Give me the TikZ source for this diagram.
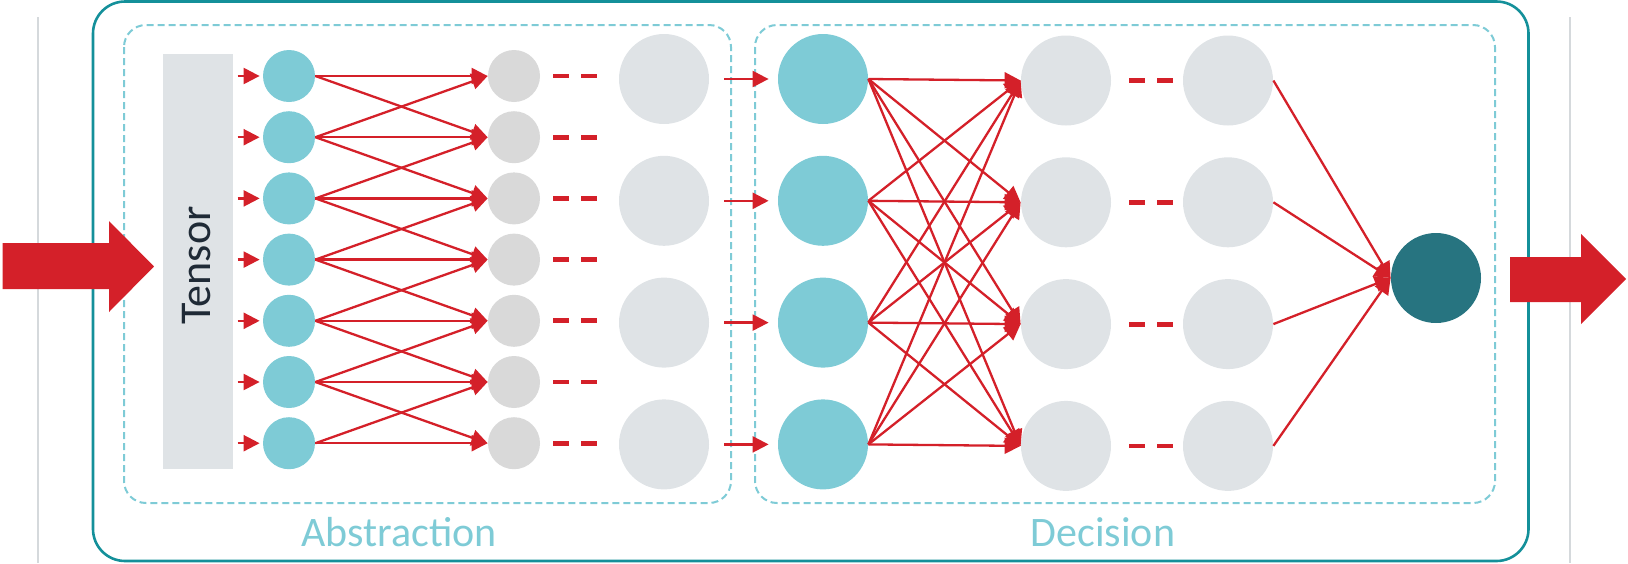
\documentclass[tikz,border=0pt]{standalone}
\usepackage{fontspec}
\setmainfont{Carlito}
\usetikzlibrary{arrows.meta}
\definecolor{netred}{HTML}{D42029}
\definecolor{lteal}{HTML}{7ECBD6}
\definecolor{dteal}{HTML}{277480}
\definecolor{frameteal}{HTML}{14909A}
\definecolor{sgray}{HTML}{D9D9D9}
\definecolor{bgray}{HTML}{DFE3E6}
\definecolor{vline}{HTML}{D5D9DC}
\definecolor{tensortext}{HTML}{1F2A36}
\begin{document}
\begin{tikzpicture}[x=0.5pt,y=-0.5pt,
  smallin/.style={circle,fill=lteal,minimum size=26pt,inner sep=0pt},
  smallgray/.style={circle,fill=sgray,minimum size=26pt,inner sep=0pt},
  biggray/.style={circle,fill=bgray,minimum size=45pt,inner sep=0pt},
  bigteal/.style={circle,fill=lteal,minimum size=45pt,inner sep=0pt},
  outnode/.style={circle,fill=dteal,minimum size=45pt,inner sep=0pt},
  conn/.style={draw=netred,line width=1.15pt,-{Triangle[length=8pt,width=8pt]}},
  dotsline/.style={draw=netred,line width=2.4pt,dash pattern=on 8pt off 6pt},
  groupbox/.style={draw=lteal,line width=1pt,dash pattern=on 3.5pt off 2pt,rounded corners=11pt},
  grouplabel/.style={text=lteal,font=\fontsize{21}{25}\selectfont,anchor=base,inner sep=0pt},
  bigarrow/.style={fill=netred}
]
\useasboundingbox (0,0) rectangle (1628,563);
% side guide lines
\draw[vline,line width=0.8pt] (38,17) -- (38,563);
\draw[vline,line width=0.8pt] (1570,17) -- (1570,563);
% outer frame
\draw[frameteal,line width=1.3pt,rounded corners=16pt] (93,1.5) rectangle (1528.5,561);
% group boxes
\draw[groupbox] (124,25) rectangle (731,503);
\draw[groupbox] (755,25) rectangle (1495,503);
\node[grouplabel] (abs) at (399,546) {Abstraction};
\node[grouplabel] (dec) at (1103,546) {Decision};
% tensor
\node[fill=bgray,minimum width=35pt,minimum height=207.5pt,inner sep=0pt] (tensor) at (198,261.5) {};
\node[rotate=90,anchor=base,inner sep=0pt,text=tensortext,font=\fontsize{22}{26}\selectfont] (tensorlabel) at (210,265.5) {Tensor};
% abstraction layers
\foreach \i in {1,...,7} {
  \pgfmathsetmacro\yy{76+61.2*(\i-1)}
  \node[smallin] (a\i) at (289,\yy) {};
  \node[smallgray] (b\i) at (514,\yy) {};
}
\foreach \k in {1,...,4} {
  \pgfmathsetmacro\yy{79+121.8*(\k-1)}
  \node[biggray] (c\k) at (664,\yy) {};
  \node[bigteal] (d\k) at (823,\yy) {};
  \pgfmathsetmacro\yz{80.5+121.8*(\k-1)}
  \node[biggray] (e\k) at (1066,\yz) {};
  \node[biggray] (f\k) at (1228,\yz) {};
}
\node[outnode] (out) at (1436,278) {};
% input arrows to first layer
\foreach \i in {1,...,7} {
  \draw[conn,shorten >=1.5pt] ([xshift=-12.5pt]a\i.west) -- (a\i.west);
  \draw[dotsline] ([xshift=6.5pt]b\i.east) -- ([xshift=28.5pt]b\i.east);
}
% layer 1 -> layer 2
\foreach \i in {1,...,7} {
  \foreach \j in {1,...,7} {
    \pgfmathtruncatemacro\dd{abs(\i-\j)}
    \ifnum\dd<2
      \draw[conn] (a\i.east) -- (b\j.west);
    \fi
  }
}
% abstraction -> decision
\foreach \k in {1,...,4} {
  \draw[conn,shorten <=7.5pt,shorten >=4.5pt] (c\k.east) -- (d\k.west);
  \draw[dotsline] ([xshift=9pt]e\k.east) -- ([xshift=31pt]e\k.east);
  \draw[conn] (f\k.east) -- (out.west);
}
\foreach \i in {1,...,4} {
  \foreach \j in {1,...,4} {
    \draw[conn] (d\i.east) -- (e\j.west);
  }
}
% big input / output arrows
\fill[bigarrow] (2.5,243) -- (109,243) -- (109,221) -- (154,266.5) -- (109,312) -- (109,289) -- (2.5,289) -- cycle;
\fill[bigarrow] (1510,257) -- (1581,257) -- (1581,234) -- (1626,279) -- (1581,324) -- (1581,302) -- (1510,302) -- cycle;
\end{tikzpicture}
\end{document}
